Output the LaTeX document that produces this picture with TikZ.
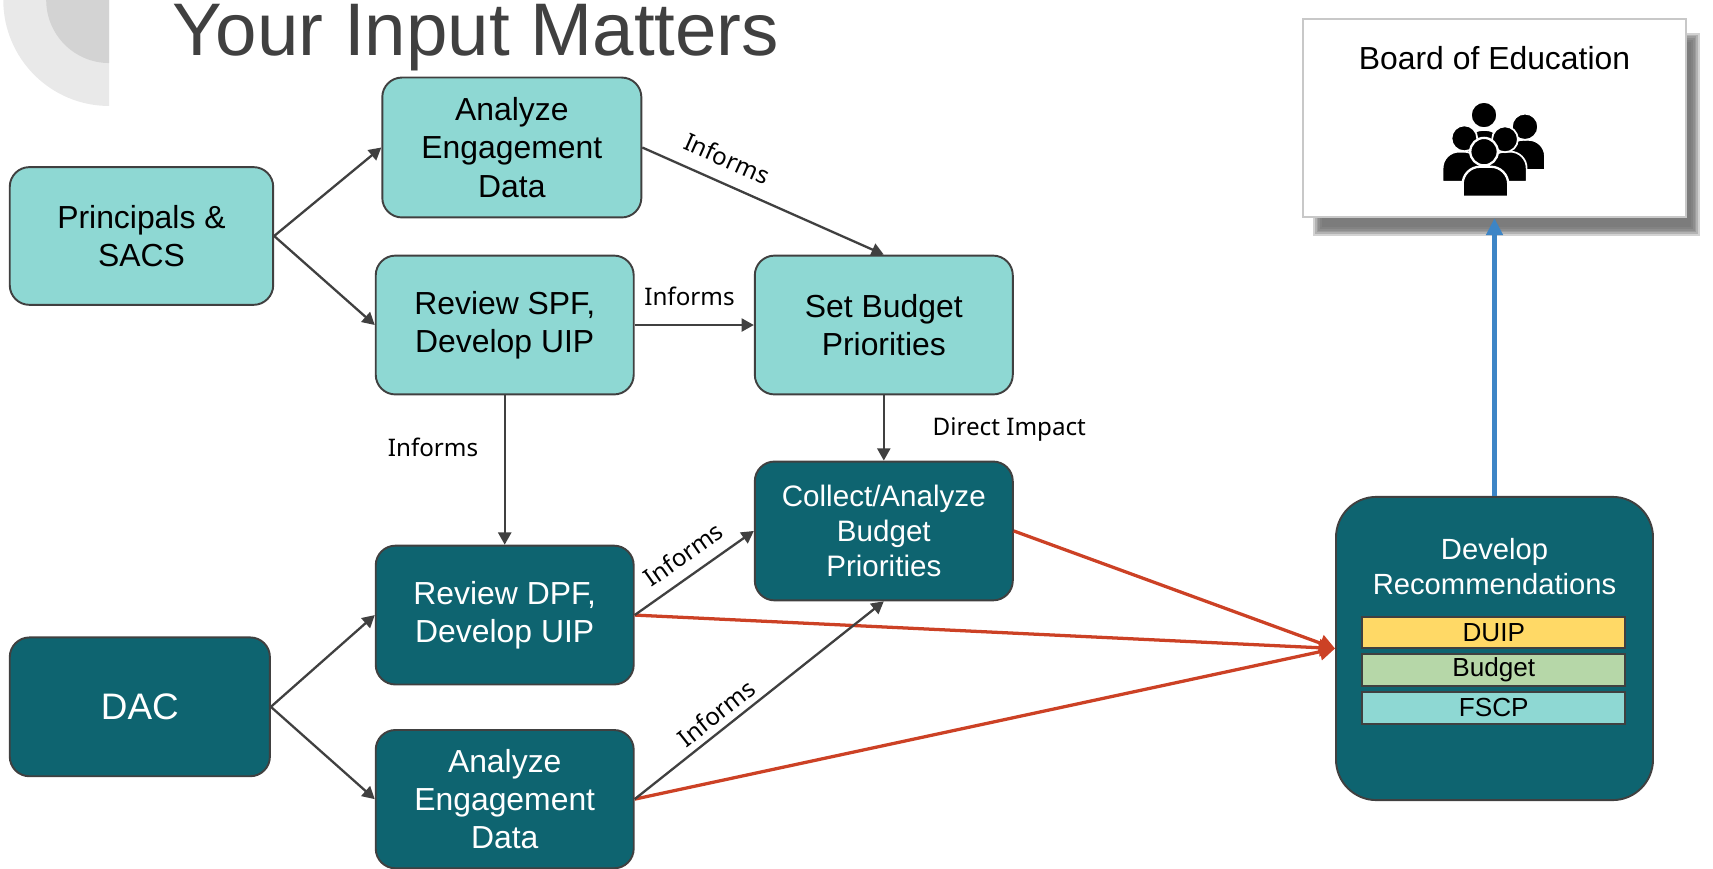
\documentclass[tikz,border=0pt]{standalone}
\usepackage{fontspec}
\setmainfont{Liberation Sans}
\newfontfamily\lblfont{Noto Sans}
\usetikzlibrary{arrows.meta}
\definecolor{lteal}{HTML}{8ED8D3}
\definecolor{dteal}{HTML}{0E6470}
\definecolor{bord}{HTML}{404040}
\definecolor{redl}{HTML}{CC4125}
\definecolor{bluel}{HTML}{3D85C6}
\definecolor{yel}{HTML}{FFD966}
\definecolor{grn}{HTML}{B6D7A8}
\definecolor{titlec}{HTML}{404040}
\definecolor{decoA}{HTML}{E9E9E9}
\definecolor{decoB}{HTML}{D3D3D3}
\definecolor{shadowc}{HTML}{6A6A6A}
\definecolor{boeborder}{HTML}{C8C8C8}
\begin{document}
\begin{tikzpicture}[x=0.01cm, y=-0.01cm,
  boxbase/.style={draw=bord, line width=0.5pt, rounded corners=0.18cm, align=center, inner sep=0pt, minimum width=2.36cm, minimum height=1.27cm},
  lightbox/.style={boxbase, fill=lteal, text=black, font=\fontsize{8.3}{10}\selectfont},
  darkbox/.style={boxbase, fill=dteal, text=white, font=\fontsize{8.3}{10}\selectfont},
  conn/.style={draw=bord, line width=0.6pt, -{Triangle[length=3.2pt,width=3.4pt]}},
  redconn/.style={draw=redl, line width=0.85pt, -{Triangle[length=4pt,width=4.4pt]}},
  lbl/.style={font=\lblfont\fontsize{6.3}{7.5}\selectfont, text=black, inner sep=1pt},
  bar/.style={draw=bord, line width=0.5pt, minimum width=2.405cm, inner sep=0pt, font=\fontsize{6.8}{8}\selectfont, text=black},
  iconfill/.style={fill=black, draw=white, line width=0.45pt}
]
\useasboundingbox (0,0) rectangle (1568,795.4);

% decorative quarter discs
\fill[decoA] (100,0) -- (3,0) arc[start angle=180, end angle=90, radius=97] -- cycle;
\fill[decoB] (100,0) -- (42.3,0) arc[start angle=180, end angle=90, radius=57.7] -- cycle;

% title
\node[anchor=base west, text=titlec, font=\fontsize{19.4}{23}\selectfont, inner sep=0pt] (title) at (157.5,51) {Your Input Matters};

% boxes
\node[lightbox, minimum width=2.41cm, minimum height=1.26cm] (pr) at (129.5,216) {Principals \&\\SACS};
\node[lightbox, minimum width=2.37cm, minimum height=1.28cm] (ae1) at (468.5,135) {Analyze\\Engagement\\Data};
\node[lightbox] (rs) at (462,297.5) {Review SPF,\\Develop UIP};
\node[lightbox] (sb) at (809,297.5) {Set Budget\\Priorities};
\node[darkbox, font=\fontsize{7.7}{9.1}\selectfont] (ca) at (809,486) {Collect/Analyze\\Budget\\Priorities};
\node[darkbox] (rd) at (462,563) {Review DPF,\\Develop UIP};
\node[darkbox, minimum width=2.38cm, font=\fontsize{9.6}{12}\selectfont] (dac) at (128,647) {DAC};
\node[darkbox, minimum height=1.265cm] (ae2) at (462,731.5) {Analyze\\Engagement\\Data};

% develop recommendations
\node[boxbase, fill=dteal, minimum width=2.9cm, minimum height=2.774cm, rounded corners=0.37cm] (dr) at (1368,593.6) {};
\node[text=white, align=center, font=\fontsize{7.6}{9.1}\selectfont, inner sep=0pt] (drt) at (1368,519) {Develop\\Recommendations};
\node[bar, fill=yel, minimum height=0.289cm] (duip) at (1367.3,579) {DUIP};
\node[bar, fill=grn, minimum height=0.293cm] (bud) at (1367.3,613.3) {Budget};
\node[bar, fill=lteal, minimum height=0.296cm] (fscp) at (1367.3,647.9) {FSCP};

% board of education with shadow
\foreach \k in {0,...,5}{\fill[shadowc, opacity=0.3] ({1210-1.6*\k},{38-1.6*\k}) rectangle ({1548+1.6*\k},{208+1.6*\k});}
\node[draw=boeborder, fill=white, line width=0.6pt, minimum width=3.505cm, minimum height=1.812cm, inner sep=0pt] (boe) at (1368,108) {};
\node[font=\fontsize{8.3}{10}\selectfont, inner sep=0pt] (boet) at (1368,53.5) {Board of Education};

% people icon
\filldraw[iconfill] (1343,150) -- (1343,133) arc[start angle=180, end angle=270, radius=14] -- (1360,119) arc[start angle=270, end angle=360, radius=14] -- (1374,150) -- cycle;
\filldraw[iconfill] (1358.4,105.3) circle[radius=12];
\filldraw[iconfill] (1379.1,155.6) -- (1379.1,143) arc[start angle=180, end angle=270, radius=15] -- (1399.2,128) arc[start angle=270, end angle=360, radius=15] -- (1414.2,155.6) -- cycle;
\filldraw[iconfill] (1395.9,116) circle[radius=12];
\filldraw[iconfill] (1320.5,166.3) -- (1320.5,153.8) arc[start angle=180, end angle=270, radius=15] -- (1339.7,138.8) arc[start angle=270, end angle=360, radius=15] -- (1354.7,166.3) -- cycle;
\filldraw[iconfill] (1340.4,126.6) circle[radius=11.8];
\filldraw[iconfill] (1362.8,166.3) -- (1362.8,153.8) arc[start angle=180, end angle=270, radius=15] -- (1382.4,138.8) arc[start angle=270, end angle=360, radius=15] -- (1397.4,166.3) -- cycle;
\filldraw[iconfill] (1377.6,127.5) circle[radius=11.8];
\filldraw[iconfill, line width=0.6pt] (1338.8,180) -- (1338.8,168.6) arc[start angle=180, end angle=270, radius=16] -- (1364.6,152.6) arc[start angle=270, end angle=360, radius=16] -- (1380.6,180) -- cycle;
\filldraw[iconfill, line width=0.6pt] (1358.4,138.8) circle[radius=12.6];

% red connectors
\draw[redconn] (ca.east) -- (dr.west);
\draw[redconn] (rd.east) -- (dr.west);
\draw[redconn] (ae2.east) -- (dr.west);

% blue connector
\draw[bluel, line width=1.05pt, -{Triangle[length=4.4pt,width=4.2pt]}] (dr.north) -- (boe.south);

% gray connectors
\draw[conn] (pr.east) -- (ae1.west);
\draw[conn] (pr.east) -- (rs.west);
\draw[conn] (ae1.east) -- node[lbl, sloped, above=2.6pt, pos=0.31] {Informs} (sb.north);
\draw[conn] (rs.east) -- node[lbl, above, yshift=3.7pt, pos=0.46] {Informs} (sb.west);
\draw[conn] (sb.south) -- node[lbl, right, xshift=11.4pt, pos=0.52] {Direct Impact} (ca.north);
\draw[conn] (rs.south) -- node[lbl, left, xshift=-5.6pt, pos=0.35] {Informs} (rd.north);
\draw[conn] (dac.east) -- (rd.west);
\draw[conn] (dac.east) -- (ae2.west);
\draw[conn] (rd.east) -- node[lbl, sloped, above=1.9pt, pos=0.51] {Informs} (ca.west);
\draw[conn] (ae2.east) -- node[lbl, sloped, above=0.6pt, pos=0.37] {Informs} (ca.south);
\end{tikzpicture}
\end{document}
